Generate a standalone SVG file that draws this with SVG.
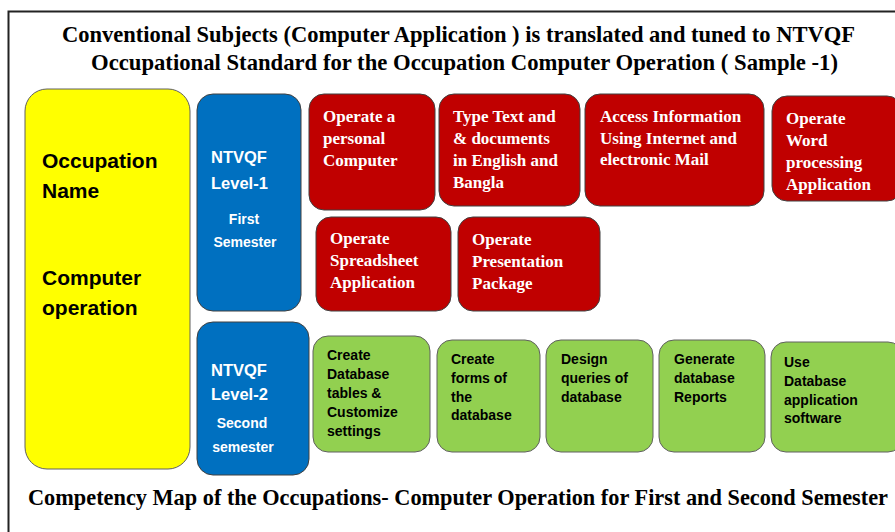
<svg xmlns="http://www.w3.org/2000/svg" width="895" height="532" viewBox="0 0 895 532">
<style>
.title{font-family:"Liberation Serif","Times New Roman",serif;font-weight:bold;font-size:22.5px;fill:#000}
.yel{fill:#FFFF00;stroke:#606060;stroke-width:1}
.blu{fill:#0070C0;stroke:#404040;stroke-width:1}
.red{fill:#C00000;stroke:#404040;stroke-width:1}
.grn{fill:#92D050;stroke:#606060;stroke-width:1}
.yt{font-family:"Liberation Sans",Arial,sans-serif;font-weight:bold;font-size:21px;fill:#000}
.bt{font-family:"Liberation Sans",Arial,sans-serif;font-weight:bold;font-size:16.5px;fill:#fff}
.bs{font-family:"Liberation Sans",Arial,sans-serif;font-weight:bold;font-size:14px;fill:#fff;text-anchor:middle}
.rt{font-family:"Liberation Serif","Times New Roman",serif;font-weight:bold;font-size:17px;fill:#fff}
.gt{font-family:"Liberation Sans",Arial,sans-serif;font-weight:bold;font-size:14px;fill:#000}
</style>
<rect width="895" height="532" fill="#fff"/>
<path d="M8.5,532 V11.5 H895" fill="none" stroke="#222" stroke-width="2"/>
<g id="title">
<text class="title" x="62" y="42" textLength="793" lengthAdjust="spacingAndGlyphs">Conventional Subjects  (Computer Application ) is translated and tuned to NTVQF</text>
<text class="title" x="91" y="70" textLength="747" lengthAdjust="spacingAndGlyphs">Occupational Standard for the Occupation Computer Operation ( Sample -1)</text>
</g>
<g id="occupation">
<rect class="yel" x="25" y="89" width="165" height="380" rx="22"/>
<text class="yt" x="42" y="168">Occupation</text>
<text class="yt" x="42" y="198">Name</text>
<text class="yt" x="42" y="285">Computer</text>
<text class="yt" x="42" y="315">operation</text>
</g>
<g id="level1">
<rect class="blu" x="197" y="94" width="104" height="217" rx="16"/>
<text class="bt" x="211" y="163">NTVQF</text>
<text class="bt" x="211" y="189">Level-1</text>
<text class="bs" x="244" y="224">First</text>
<text class="bs" x="245" y="247">Semester</text>
</g>
<g id="level2">
<rect class="blu" x="197" y="322" width="112" height="153" rx="16"/>
<text class="bt" x="211" y="376">NTVQF</text>
<text class="bt" x="211" y="400">Level-2</text>
<text class="bs" x="242" y="428">Second</text>
<text class="bs" x="243" y="452">semester</text>
</g>
<g id="r1">
<rect class="red" x="309" y="94" width="126" height="116" rx="15"/>
<text class="rt" x="323" y="122">Operate  a</text>
<text class="rt" x="323" y="144">personal</text>
<text class="rt" x="323" y="166">Computer</text>
</g>
<g id="r2">
<rect class="red" x="439" y="94" width="141" height="112" rx="15"/>
<text class="rt" x="453" y="122">Type Text and</text>
<text class="rt" x="453" y="144">&amp;  documents</text>
<text class="rt" x="453" y="166">in  English and</text>
<text class="rt" x="453" y="188">Bangla</text>
</g>
<g id="r3">
<rect class="red" x="585" y="94" width="179" height="112" rx="15"/>
<text class="rt" x="600" y="122">Access Information</text>
<text class="rt" x="600" y="144">Using Internet and</text>
<text class="rt" x="600" y="165">electronic Mail</text>
</g>
<g id="r4">
<rect class="red" x="772" y="96" width="130" height="105" rx="15"/>
<text class="rt" x="786" y="124">Operate</text>
<text class="rt" x="786" y="146">Word</text>
<text class="rt" x="786" y="168">processing</text>
<text class="rt" x="786" y="190">Application</text>
</g>
<g id="r5">
<rect class="red" x="316" y="217" width="135" height="94" rx="15"/>
<text class="rt" x="330" y="244">Operate</text>
<text class="rt" x="330" y="266">Spreadsheet</text>
<text class="rt" x="330" y="288">Application</text>
</g>
<g id="r6">
<rect class="red" x="458" y="217" width="142" height="94" rx="15"/>
<text class="rt" x="472" y="245">Operate</text>
<text class="rt" x="472" y="267">Presentation</text>
<text class="rt" x="472" y="289">Package</text>
</g>
<g id="g1">
<rect class="grn" x="313" y="336" width="117" height="116" rx="15"/>
<text class="gt" x="327" y="360">Create</text>
<text class="gt" x="327" y="379">Database</text>
<text class="gt" x="327" y="398">tables &amp;</text>
<text class="gt" x="327" y="417">Customize</text>
<text class="gt" x="327" y="436">settings</text>
</g>
<g id="g2">
<rect class="grn" x="437" y="340" width="103" height="112" rx="15"/>
<text class="gt" x="451" y="364">Create</text>
<text class="gt" x="451" y="383">forms of</text>
<text class="gt" x="451" y="402">the</text>
<text class="gt" x="451" y="420">database</text>
</g>
<g id="g3">
<rect class="grn" x="546" y="340" width="107" height="112" rx="15"/>
<text class="gt" x="561" y="364">Design</text>
<text class="gt" x="561" y="383">queries of</text>
<text class="gt" x="561" y="402">database</text>
</g>
<g id="g4">
<rect class="grn" x="659" y="340" width="106" height="112" rx="15"/>
<text class="gt" x="674" y="364">Generate</text>
<text class="gt" x="674" y="383">database</text>
<text class="gt" x="674" y="402">Reports</text>
</g>
<g id="g5">
<rect class="grn" x="771" y="342" width="132" height="110" rx="15"/>
<text class="gt" x="784" y="367">Use</text>
<text class="gt" x="784" y="386">Database</text>
<text class="gt" x="784" y="405">application</text>
<text class="gt" x="784" y="423">software</text>
</g>
<g id="connectors"/>
<g id="caption">
<text class="title" x="28" y="505" textLength="860" lengthAdjust="spacingAndGlyphs">Competency Map of the Occupations- Computer Operation for First and Second Semester</text>
</g>
</svg>
